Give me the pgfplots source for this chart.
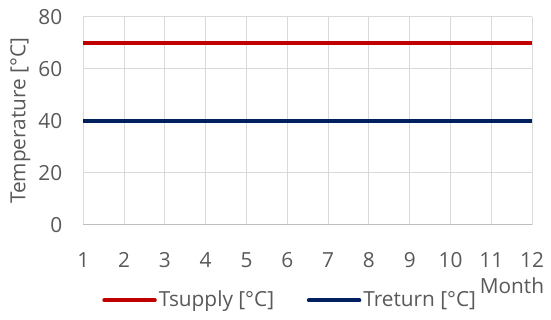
\documentclass[border=0pt]{standalone}
\usepackage{pgfplots}
\pgfplotsset{compat=1.18}
\usepackage{fontspec}
\setmainfont{Open Sans}
\definecolor{txt}{HTML}{595959}
\definecolor{grd}{HTML}{D9D9D9}
\definecolor{axl}{HTML}{BFBFBF}
\definecolor{sup}{HTML}{C00000}
\definecolor{ret}{HTML}{002060}
\begin{document}
\fontsize{21}{25}\selectfont
\begin{tikzpicture}[x=1pt,y=1pt]
\path (-84,-95) rectangle (467,227);
\begin{axis}[
  at={(0,0)}, anchor=south west,
  scale only axis, width=453pt, height=210pt,
  xmin=1, xmax=12, ymin=0, ymax=80,
  xtick={1,...,12}, ytick={0,20,...,80},
  axis lines*=left,
  x axis line style={color=axl, line width=1pt, -},
  y axis line style={draw=none},
  grid=major,
  major grid style={color=grd, line width=1pt},
  major tick length=0pt,
  /pgf/number format/assume math mode=true,
  tick label style={font=\fontsize{21}{25}\selectfont, text=txt},
  xticklabel style={yshift=-21pt},
  yticklabel style={xshift=-14pt},
  xlabel={Month}, ylabel={Temperature [°C]},
  label style={font=\fontsize{21}{25}\selectfont, text=txt},
  xlabel style={at={(rel axis cs:0.955,-0.29)}, anchor=center},
  ylabel style={at={(rel axis cs:-0.14,0.5)}, anchor=center, rotate=0},
  legend style={at={(rel axis cs:0.461,-0.362)}, anchor=center, draw=none, fill=none,
    font=\fontsize{21}{25}\selectfont, text=txt, legend columns=2,
    nodes={inner sep=2pt},
    /tikz/every even column/.append style={column sep=31pt},
    inner sep=0pt},
  legend image code/.code={\draw[#1, line cap=round] (2pt,0pt) -- (53pt,0pt);},
  clip=false,
]
\addplot[color=sup, line width=4pt] coordinates {(1,70)(2,70)(3,70)(4,70)(5,70)(6,70)(7,70)(8,70)(9,70)(10,70)(11,70)(12,70)};
\addlegendentry{Tsupply [°C]}
\addplot[color=ret, line width=4pt] coordinates {(1,40)(2,40)(3,40)(4,40)(5,40)(6,40)(7,40)(8,40)(9,40)(10,40)(11,40)(12,40)};
\addlegendentry{Treturn [°C]}
\end{axis}
\end{tikzpicture}
\end{document}
